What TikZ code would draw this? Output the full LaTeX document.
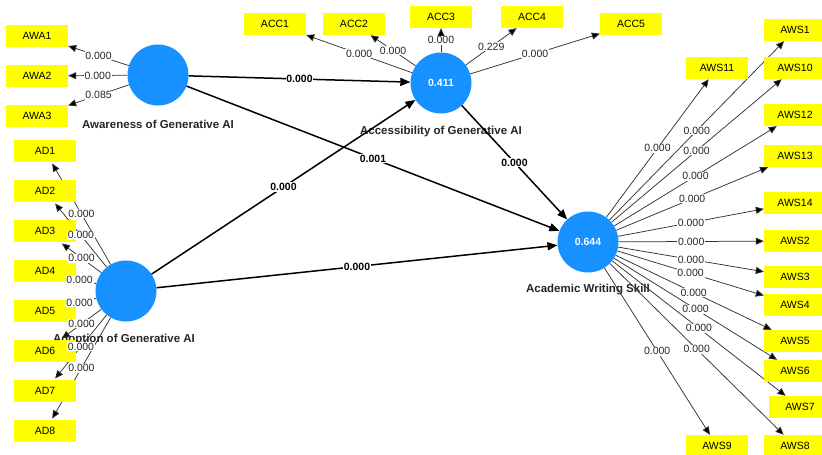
\documentclass[tikz,border=0pt]{standalone}
\usepackage{fontspec}
\setmainfont{Liberation Sans}
\usetikzlibrary{arrows.meta}
\definecolor{lvblue}{RGB}{22,145,255}
\definecolor{indyellow}{RGB}{255,255,0}
\pgfdeclarelayer{background}
\pgfsetlayers{background,main}
\tikzset{
  lv/.style={circle, fill=lvblue, minimum size=61pt, inner sep=0pt, text=white, font=\fontsize{10.5}{12}\selectfont\bfseries},
  lvname/.style={font=\fontsize{11.5}{13}\selectfont\bfseries, text=black!85},
  ind/.style={fill=indyellow, minimum width=62pt, minimum height=22pt, inner sep=0pt, font=\fontsize{10.5}{12}\selectfont},
  adind/.style={ind, outer xsep=-13pt, outer ysep=1.5pt},
  outer/.style={draw=black!80, line width=0.75pt, -{Triangle[length=8pt,width=7pt, fill=black]}},
  struct/.style={draw=black, line width=1.5pt, -{Triangle[length=10pt,width=8pt]}},
  wt/.style={fill=white, inner sep=0.8pt, text=black!85, font=\fontsize{10.5}{12}\selectfont},
  swt/.style={wt, text=black, font=\fontsize{10.5}{12}\selectfont\bfseries},
}
\begin{document}
\begin{tikzpicture}[x=1pt, y=-1pt]
  \useasboundingbox (0,0) rectangle (822,455);
  % latent variables
  \node[lv] (awa) at (158,75) {};
  \node[lv] (acc) at (441,83) {0.411};
  \node[lv] (ado) at (126,291) {};
  \node[lv] (aws) at (588,242) {0.644};
  \node[lvname] (awaname) at (158,124) {Awareness of Generative AI};
  \node[lvname] (accname) at (441,132) {Accessibility of Generative AI};
  \node[lvname] (adoname) at (124,340) {Adoption of Generative AI};
  \node[lvname] (awsname) at (588,290) {Academic Writing Skill};
  % indicators
  \node[ind] (awa1) at (37,36) {AWA1};
  \node[ind] (awa2) at (37,76) {AWA2};
  \node[ind] (awa3) at (37,116) {AWA3};
  \node[adind] (ad1) at (45,151) {AD1};
  \node[adind] (ad2) at (45,191) {AD2};
  \node[adind] (ad3) at (45,231) {AD3};
  \node[adind] (ad4) at (45,271) {AD4};
  \node[adind] (ad5) at (45,311) {AD5};
  \node[adind] (ad6) at (45,351) {AD6};
  \node[adind] (ad7) at (45,391) {AD7};
  \node[adind] (ad8) at (45,431) {AD8};
  \node[ind] (acc1) at (275,24) {ACC1};
  \node[ind] (acc2) at (354,24) {ACC2};
  \node[ind] (acc3) at (441,17) {ACC3};
  \node[ind] (acc4) at (532,17) {ACC4};
  \node[ind] (acc5) at (631,24) {ACC5};
  \node[ind] (aws1) at (795,30) {AWS1};
  \node[ind] (aws10) at (795,68) {AWS10};
  \node[ind] (aws11) at (717,68) {AWS11};
  \node[ind] (aws12) at (795,115) {AWS12};
  \node[ind] (aws13) at (795,156) {AWS13};
  \node[ind] (aws14) at (795,203) {AWS14};
  \node[ind] (aws2) at (795,241) {AWS2};
  \node[ind] (aws3) at (795,277) {AWS3};
  \node[ind] (aws4) at (795,305) {AWS4};
  \node[ind] (aws5) at (795,341) {AWS5};
  \node[ind] (aws6) at (795,371) {AWS6};
  \node[ind] (aws7) at (800,407) {AWS7};
  \node[ind] (aws8) at (795,446) {AWS8};
  \node[ind] (aws9) at (717,446) {AWS9};
  % outer loadings, under the boxes
  \begin{pgfonlayer}{background}
    \fill[white] (0,0) rectangle (822,455);
    \foreach \t in {1,2,3} \draw[outer] (awa) -- (awa\t);
    \foreach \t in {1,...,8} \draw[outer] (ado) -- (ad\t);
    \foreach \t in {1,...,5} \draw[outer] (acc) -- (acc\t);
    \foreach \t in {1,...,14} \draw[outer] (aws) -- (aws\t);
  \end{pgfonlayer}
  \foreach \t/\v in {1/0.000,2/0.000,3/0.085}
    \path (awa) -- (awa\t) node[wt, midway] (lawa\t) {\v};
  \foreach \t in {1,...,8}
    \path (ado) -- (ad\t) node[wt, midway] (lad\t) {0.000};
  \foreach \t/\v in {1/0.000,2/0.000,3/0.000,4/0.229,5/0.000}
    \path (acc) -- (acc\t) node[wt, midway] (lacc\t) {\v};
  \foreach \t in {1,...,14}
    \path (aws) -- (aws\t) node[wt, midway] (laws\t) {0.000};
  % inner model
  \draw[struct] (awa) -- (acc) node[swt, midway] (pawaacc) {0.000};
  \draw[struct] (awa) -- (aws) node[swt, midway] (pawaaws) {0.001};
  \draw[struct] (ado) -- (acc) node[swt, midway] (padoacc) {0.000};
  \draw[struct] (ado) -- (aws) node[swt, midway] (padoaws) {0.000};
  \draw[struct] (acc) -- (aws) node[swt, midway] (paccaws) {0.000};
\end{tikzpicture}
\end{document}
